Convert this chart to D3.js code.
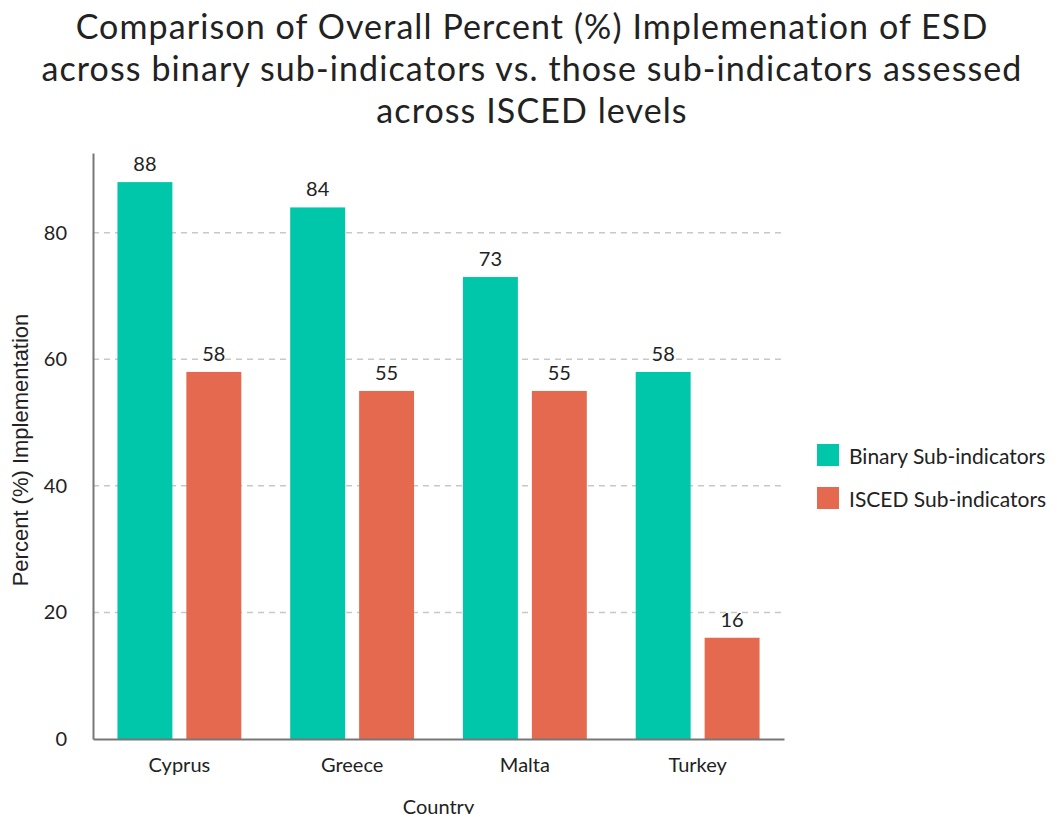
<!DOCTYPE html>
<meta charset="utf-8" />
<style>
    body { margin: 0; background: #fff; }
    svg { font-family: Lato, "Open Sans", sans-serif; }
</style>
<svg width="1057" height="814"></svg>
<script src="https://d3js.org/d3.v7.min.js"></script>
<script>
    var svg = d3.select("svg");

    // data
    var countries = ["Cyprus", "Greece", "Malta", "Turkey"];
    var seriesNames = ["Binary Sub-indicators", "ISCED Sub-indicators"];
    var binaryValues = [88, 84, 73, 58];
    var iscedValues = [58, 55, 55, 16];
    var yTicks = [0, 20, 40, 60, 80];
    var titleLines = [
        "Comparison of Overall Percent (%) Implemenation of ESD",
        "across binary sub-indicators vs. those sub-indicators assessed",
        "across ISCED levels"
    ];
    var colors = ["#00c6aa", "#e5694e"];

    var rows = countries.map(function (c, i) {
        return { country: c, values: [binaryValues[i], iscedValues[i]] };
    });

    // plot box (named so they don't clash with window.top)
    var plotLeft = 93, plotRight = 784, plotTop = 153, plotBottom = 739;

    var x0 = d3.scaleBand()
        .domain(countries)
        .range([plotLeft, plotRight])
        .paddingInner(0.283)
        .paddingOuter(0.1415);

    var x1 = d3.scaleBand()
        .domain([0, 1])
        .range([0, x0.bandwidth()])
        .paddingInner(0.203);

    var y = d3.scaleLinear()
        .domain([0, 92.6])
        .range([plotBottom, plotTop]);

    // title
    svg.append("g").selectAll("text")
        .data(titleLines)
        .enter()
        .append("text")
        .attr("x", 532)
        .attr("y", function (d, i) { return 39 + i * 42; })
        .attr("text-anchor", "middle")
        .attr("font-size", 34)
        .attr("letter-spacing", 1.1)
        .attr("fill", "#222")
        .text(d => d);

    // gridlines
    svg.append("g").selectAll("line")
        .data(yTicks.filter(d => d > 0))
        .enter()
        .append("line")
        .attr("x1", plotLeft)
        .attr("x2", plotRight)
        .attr("y1", d => y(d))
        .attr("y2", d => y(d))
        .attr("stroke", "#c8c8c8")
        .attr("stroke-width", 1.5)
        .attr("stroke-dasharray", "6,5");

    // bars
    var groups = svg.append("g").selectAll("g")
        .data(rows)
        .enter()
        .append("g")
        .attr("transform", d => "translate(" + x0(d.country) + ",0)");

    groups.selectAll("rect")
        .data(d => d.values)
        .enter()
        .append("rect")
        .attr("x", (d, i) => x1(i))
        .attr("width", x1.bandwidth())
        .attr("y", d => y(d))
        .attr("height", d => y(0) - y(d))
        .attr("fill", (d, i) => colors[i]);

    groups.selectAll("text")
        .data(d => d.values)
        .enter()
        .append("text")
        .attr("x", (d, i) => x1(i) + x1.bandwidth() / 2)
        .attr("y", d => y(d) - 11)
        .attr("text-anchor", "middle")
        .attr("font-size", 20)
        .attr("fill", "#222")
        .text(d => d);

    // axes
    var yAxis = svg.append("g")
        .attr("transform", "translate(" + plotLeft + ",0)")
        .call(d3.axisLeft(y).tickValues(yTicks).tickSize(0).tickPadding(26));
    yAxis.select(".domain").attr("stroke", "#777").attr("stroke-width", 2);
    yAxis.selectAll("text").attr("font-size", 20).attr("fill", "#222")
        .attr("font-family", "Lato, sans-serif");

    var xAxis = svg.append("g")
        .attr("transform", "translate(0," + plotBottom + ")")
        .call(d3.axisBottom(x0).tickSize(0).tickPadding(19));
    xAxis.select(".domain").attr("stroke", "#777").attr("stroke-width", 2);
    xAxis.selectAll("text").attr("font-size", 20).attr("fill", "#222")
        .attr("font-family", "Lato, sans-serif");

    // axis titles
    svg.append("text")
        .attr("transform", "translate(28,450) rotate(-90)")
        .attr("text-anchor", "middle")
        .attr("font-family", "'Liberation Sans', Arial, sans-serif")
        .attr("font-size", 22)
        .attr("fill", "#222")
        .text("Percent (%) Implementation");

    svg.append("text")
        .attr("x", (plotLeft + plotRight) / 2)
        .attr("y", 814)
        .attr("text-anchor", "middle")
        .attr("font-size", 20)
        .attr("fill", "#222")
        .text("Country");

    // legend
    var legend = svg.append("g").selectAll("g")
        .data(seriesNames)
        .enter()
        .append("g")
        .attr("transform", (d, i) => "translate(817," + (444 + i * 43) + ")");

    legend.append("rect")
        .attr("width", 22)
        .attr("height", 22)
        .attr("fill", (d, i) => colors[i]);

    legend.append("text")
        .attr("x", 32)
        .attr("y", 20)
        .attr("font-size", 21)
        .attr("fill", "#222")
        .text(d => d);
</script>
